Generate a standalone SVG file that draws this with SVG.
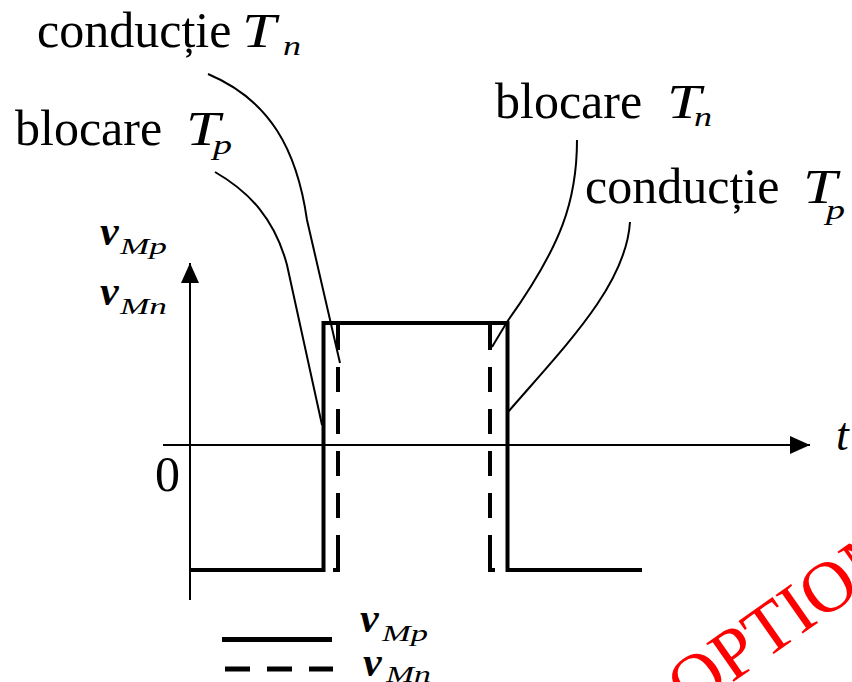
<svg xmlns="http://www.w3.org/2000/svg" width="852" height="682" viewBox="0 0 852 682">
<style>
.lbl{font-family:"Liberation Serif","Times New Roman",serif;font-size:50px;fill:#000}
.mi{font-family:"Liberation Serif","Times New Roman",serif;font-style:italic;fill:#000}
.vb{font-family:"Liberation Serif","Times New Roman",serif;font-style:italic;font-weight:bold;font-size:42px;fill:#000}
.sub{font-family:"Liberation Serif","Times New Roman",serif;font-style:italic;font-size:24px;fill:#000}
.axis{stroke:#000;stroke-width:2;fill:none}
.sig{stroke:#000;stroke-width:4;fill:none}
.dash{stroke:#000;stroke-width:4;fill:none;stroke-dasharray:25 17 25 17 25 17 25 17 25 17 40}
.lead{stroke:#000;stroke-width:2;fill:none}
</style>
<defs>
<marker id="arr" viewBox="0 0 20 18" refX="20" refY="9" markerWidth="20" markerHeight="18" markerUnits="userSpaceOnUse" orient="auto">
<path d="M0,0 L20,9 L0,18 z" fill="#000"/>
</marker>
</defs>
<rect width="852" height="682" fill="#fff"/>

<g id="axes">
<line class="axis" x1="190" y1="600" x2="190" y2="263" marker-end="url(#arr)"/>
<line class="axis" x1="163" y1="445" x2="810" y2="445" marker-end="url(#arr)"/>
<text class="lbl" x="155" y="491">0</text>
<text class="mi" x="836" y="450" font-size="46">t</text>
</g>

<g id="axis-labels">
<text class="vb" x="100" y="245">v</text>
<text class="sub" x="120" y="254" textLength="47" lengthAdjust="spacingAndGlyphs">Mp</text>
<text class="vb" x="100" y="305">v</text>
<text class="sub" x="120" y="314" textLength="47" lengthAdjust="spacingAndGlyphs">Mn</text>
</g>

<g id="vMp-wave">
<path class="sig" d="M190,570 H323.5 V323 H507.5 V570 H642"/>
</g>
<g id="vMn-wave">
<path class="dash" d="M338,325 V570 H323"/>
<path class="dash" d="M490,325 V570 H505"/>
</g>

<g id="connectors">
<path class="lead" d="M208,74 C270,100 297,150 307,220 L340,363"/>
<path class="lead" d="M215,172 C250,192 275,220 287,265 L322,425"/>
<path class="lead" d="M577,140 C577,200 562,245 507,322 L492,347"/>
<path class="lead" d="M630,222 C626,285 566,345 508,412"/>
</g>

<g id="label-conductie-Tn">
<text class="lbl" x="37" y="47">conducție</text>
<text class="mi" x="242" y="47" font-size="48" textLength="34" lengthAdjust="spacingAndGlyphs">T</text>
<text class="mi" x="283" y="55" font-size="28" textLength="18" lengthAdjust="spacingAndGlyphs">n</text>
</g>
<g id="label-blocare-Tp">
<text class="lbl" x="15" y="145">blocare</text>
<text class="mi" x="186" y="145" font-size="48" textLength="34" lengthAdjust="spacingAndGlyphs">T</text>
<text class="mi" x="213" y="154" font-size="28" textLength="19" lengthAdjust="spacingAndGlyphs">p</text>
</g>
<g id="label-blocare-Tn">
<text class="lbl" x="495" y="118">blocare</text>
<text class="mi" x="667" y="118" font-size="48" textLength="34" lengthAdjust="spacingAndGlyphs">T</text>
<text class="mi" x="694" y="126" font-size="28" textLength="18" lengthAdjust="spacingAndGlyphs">n</text>
</g>
<g id="label-conductie-Tp">
<text class="lbl" x="585" y="203">conducție</text>
<text class="mi" x="803" y="203" font-size="48" textLength="34" lengthAdjust="spacingAndGlyphs">T</text>
<text class="mi" x="826" y="219" font-size="28" textLength="19" lengthAdjust="spacingAndGlyphs">p</text>
</g>

<g id="legend">
<line x1="222" y1="639.5" x2="332" y2="639.5" stroke="#000" stroke-width="5"/>
<line x1="225" y1="669" x2="333" y2="669" stroke="#000" stroke-width="5" stroke-dasharray="25 17"/>
<text class="vb" x="360" y="632">v</text>
<text class="sub" x="382" y="641" textLength="46" lengthAdjust="spacingAndGlyphs">Mp</text>
<text class="vb" x="363" y="676">v</text>
<text class="sub" x="386" y="682" textLength="45" lengthAdjust="spacingAndGlyphs">Mn</text>
</g>

<g id="watermark">
<text transform="translate(689,713) rotate(-35)" font-family="Liberation Serif, Times New Roman, serif" font-size="72" fill="#ff0000">OPTION</text>
</g>
</svg>
